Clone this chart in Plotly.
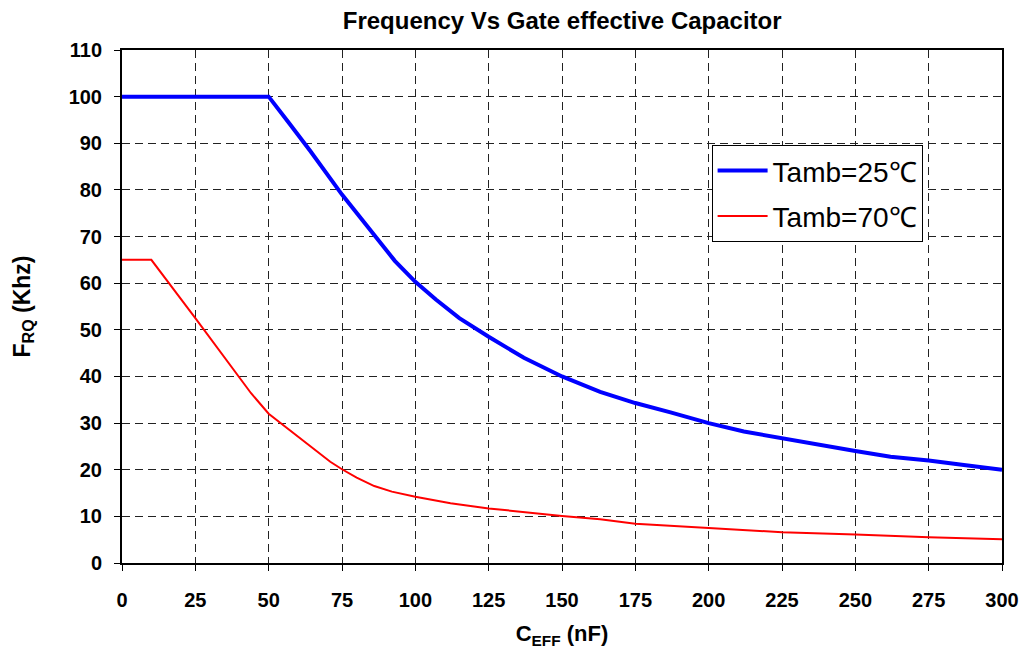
import plotly.graph_objects as go

# Data
x_25 = [0, 10, 25, 50, 57, 64, 75, 87, 93, 100, 107, 115, 125, 137, 150, 163, 175, 187, 200, 212, 225, 237, 250, 262, 275, 287, 300]
y_25 = [100, 100, 100, 100, 94.3, 88.5, 79, 69.5, 64.8, 60.3, 56.5, 52.5, 48.5, 44, 40, 36.7, 34.3, 32.3, 30, 28.2, 26.7, 25.3, 24, 22.8, 22, 21, 20]

x_70 = [0, 10, 25, 44, 50, 58, 61, 66, 71, 75, 80, 86, 92, 100, 112, 125, 140, 150, 163, 175, 200, 225, 250, 275, 300]
y_70 = [65, 65, 52.5, 36.4, 32, 28.0, 26.7, 24.0, 21.7, 20.1, 18.3, 16.5, 15.3, 14.2, 12.8, 11.7, 10.7, 10.1, 9.4, 8.4, 7.5, 6.6, 6.1, 5.5, 5.1]

x_ticks = [0, 25, 50, 75, 100, 125, 150, 175, 200, 225, 250, 275, 300]
y_ticks = [0, 10, 20, 30, 40, 50, 60, 70, 80, 90, 100, 110]

FONT = "Liberation Sans, Arial, sans-serif"

fig = go.Figure()
fig.add_trace(go.Scatter(x=x_25, y=y_25, mode="lines", name="Tamb=25\u2103", legendgroup="a",
                         line=dict(color="#0000FF", width=4)))
fig.add_trace(go.Scatter(x=x_70, y=y_70, mode="lines", name="Tamb=70\u2103", legendgroup="b",
                         line=dict(color="#FF0000", width=2)))

axis_common = dict(
    showgrid=True, gridcolor="#222222", gridwidth=1, griddash="8px,5px",
    showline=True, linecolor="black", linewidth=2, mirror=True,
    ticks="outside", ticklen=6, tickcolor="black", tickwidth=1,
    zeroline=False,
    tickfont=dict(family=FONT, size=20, color="black", weight="bold"),
)

fig.update_xaxes(range=[0, 300], tickvals=x_ticks, ticklabelstandoff=12,
                 title=dict(text="C<sub>EFF</sub> (nF)", standoff=16,
                            font=dict(family=FONT, size=22, color="black", weight="bold")),
                 **axis_common)
fig.update_yaxes(range=[0, 110], tickvals=y_ticks, ticklabelstandoff=8,
                 title=dict(text="F<sub>RQ</sub> (Khz)", standoff=32,
                            font=dict(family=FONT, size=23, color="black", weight="bold")),
                 **axis_common)

fig.update_layout(
    width=1024, height=652,
    margin=dict(l=122, r=22, t=50, b=89, autoexpand=False),
    paper_bgcolor="white", plot_bgcolor="white",
    title=dict(text="Frequency Vs Gate effective Capacitor", x=0.549, xanchor="center",
               y=0.968, yanchor="middle",
               font=dict(family=FONT, size=24, color="black", weight="bold")),
    legend=dict(x=0.670, y=0.815, xanchor="left", yanchor="top",
                bgcolor="white", bordercolor="black", borderwidth=1,
                font=dict(family=FONT, size=28, color="black"),
                itemwidth=50, tracegroupgap=6),
    showlegend=True,
)

fig.write_html("out.html")
